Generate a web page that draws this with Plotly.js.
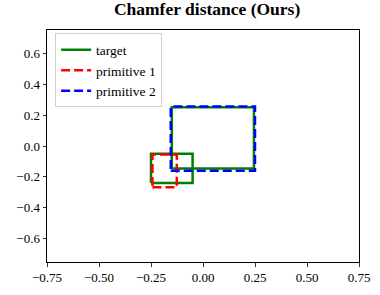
<!DOCTYPE html>
<html>
<head>
<meta charset="utf-8">
<script src="https://cdn.plot.ly/plotly-3.0.1.min.js"></script>
<style>body{margin:0;padding:0;background:#fff}#chart{width:380px;height:295px}</style>
</head>
<body>
<div id="chart"></div>
<script>
// rectangles as [xmin, xmax, ymin, ymax]
const targetRects = [[-0.25, -0.05, -0.24, -0.05], [-0.15, 0.245, -0.145, 0.25]];
const primitive1Rects = [[-0.243, -0.126, -0.267, -0.055]];
const primitive2Rects = [[-0.155, 0.25, -0.16, 0.255]];
const seriesNames = ['target', 'primitive 1', 'primitive 2'];
const xTicks = [-0.75, -0.5, -0.25, 0, 0.25, 0.5, 0.75];
const xTickText = ['\u22120.75', '\u22120.50', '\u22120.25', '0.00', '0.25', '0.50', '0.75'];
const yTicks = [-0.6, -0.4, -0.2, 0, 0.2, 0.4, 0.6];
const yTickText = ['\u22120.6', '\u22120.4', '\u22120.2', '0.0', '0.2', '0.4', '0.6'];

function outline(rects) {
  const x = [], y = [];
  rects.forEach((r, i) => {
    if (i > 0) { x.push(null); y.push(null); }
    x.push(r[0], r[1], r[1], r[0], r[0]);
    y.push(r[2], r[2], r[3], r[3], r[2]);
  });
  return {x, y};
}
const t = outline(targetRects), p1 = outline(primitive1Rects), p2 = outline(primitive2Rects);
const font = 'Liberation Serif, Times New Roman, serif';
const data = [
  {x: t.x, y: t.y, name: seriesNames[0], mode: 'lines',
   line: {color: '#008000', width: 2.5}},
  {x: p1.x, y: p1.y, name: seriesNames[1], mode: 'lines',
   line: {color: '#ff0000', width: 2.5, dash: '9px,4px'}},
  {x: p2.x, y: p2.y, name: seriesNames[2], mode: 'lines',
   line: {color: '#0000ff', width: 2.5, dash: '9px,4px'}}
];
const axisCommon = {showgrid: false, zeroline: false, showline: true, mirror: true, linecolor: '#000',
  linewidth: 1, ticks: 'outside', ticklen: 3.5, tickwidth: 0.8, tickcolor: '#000',
  tickfont: {family: font, size: 13, color: '#000'}};
const layout = {
  width: 380, height: 295,
  margin: {l: 47, r: 21, t: 30, b: 33},
  paper_bgcolor: '#fff', plot_bgcolor: '#fff',
  title: {text: '<b>Chamfer distance (Ours)</b>', font: {family: font, size: 17.5, color: '#000'},
    x: 0.545, xanchor: 'center', y: 0.99, yanchor: 'top'},
  xaxis: Object.assign({}, axisCommon, {range: [-0.75, 0.75], tickvals: xTicks, ticktext: xTickText}),
  yaxis: Object.assign({}, axisCommon, {range: [-0.75, 0.75], tickvals: yTicks, ticktext: yTickText}),
  showlegend: true,
  legend: {x: 0.026, y: 0.985, xanchor: 'left', yanchor: 'top', bgcolor: 'rgba(255,255,255,0.8)',
    bordercolor: '#d0d0d0', borderwidth: 1, font: {family: font, size: 13.5, color: '#000'},
    tracegroupgap: 0}
};
Plotly.newPlot('chart', data, layout, {displayModeBar: false, staticPlot: true});
</script>
</body>
</html>
